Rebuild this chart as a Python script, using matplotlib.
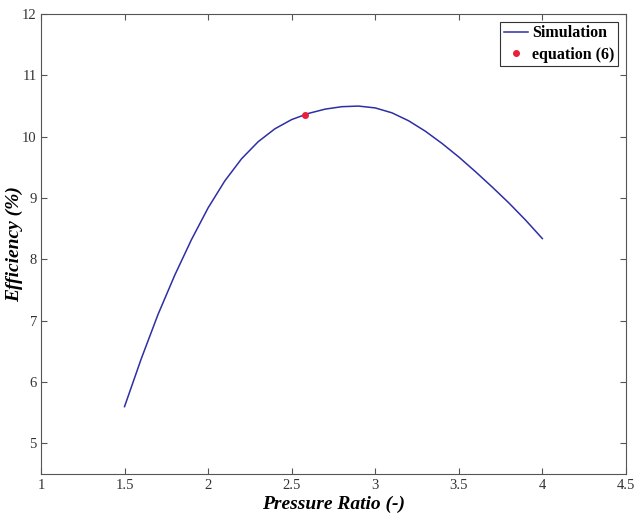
import matplotlib
matplotlib.use("Agg")
import matplotlib.pyplot as plt

pressure_ratio = [1.5, 1.6, 1.7, 1.8, 1.9, 2.0, 2.1, 2.2, 2.3, 2.4, 2.5, 2.6, 2.7,
                  2.8, 2.9, 3.0, 3.1, 3.2, 3.3, 3.4, 3.5, 3.6, 3.7, 3.8, 3.9, 4.0]
efficiency = [5.60, 6.38, 7.10, 7.74, 8.32, 8.84, 9.28, 9.64, 9.92, 10.13, 10.28,
              10.38, 10.45, 10.49, 10.50, 10.47, 10.39, 10.26, 10.09, 9.89, 9.67,
              9.43, 9.18, 8.92, 8.64, 8.34]
eq_x = [2.58]
eq_y = [10.36]

xticks = [1, 1.5, 2, 2.5, 3, 3.5, 4, 4.5]
xticklabels = ["1", "1.5", "2", "2.5", "3", "3.5", "4", "4.5"]
yticks = [5, 6, 7, 8, 9, 10, 11, 12]

plt.rcParams['font.family'] = ['Liberation Serif', 'DejaVu Serif']

fig = plt.figure(figsize=(6.4, 5.21), dpi=100)
ax = fig.add_axes([0.064, 0.090, 0.914, 0.883])

ax.plot(pressure_ratio, efficiency, color='#2e2ea6', lw=1.1, label='Simulation',
        solid_joinstyle='round')
ax.plot(eq_x, eq_y, 'o', color='#e8203a', ms=4, label='equation (6)', linestyle='none')

ax.set_xlim(1, 4.5)
ax.set_ylim(4.5, 12)
ax.set_xticks(xticks)
ax.set_xticklabels(xticklabels)
ax.set_yticks(yticks)

axcol = '#555555'
for s in ax.spines.values():
    s.set_color(axcol)
    s.set_linewidth(0.8)
ax.tick_params(direction='in', top=True, right=True, colors=axcol, length=4,
               width=0.8, labelsize=10.5, labelcolor='#333333')
ax.tick_params(axis='y', pad=3)

ax.set_xlabel('Pressure Ratio (-)', fontsize=14, fontweight='bold', style='italic', labelpad=3)
ax.set_ylabel('Efficiency (%)', fontsize=14, fontweight='bold', style='italic')
ax.yaxis.set_label_coords(-0.030, 0.5)

leg = ax.legend(loc='upper right', fancybox=False, framealpha=1, edgecolor='#333333',
                prop={'weight': 'bold', 'size': 11.5}, handlelength=1.5,
                handletextpad=0.3, borderpad=0.2, labelspacing=0.35,
                borderaxespad=0.5)
leg.get_frame().set_linewidth(0.8)

fig.savefig('out.png', dpi=100)
